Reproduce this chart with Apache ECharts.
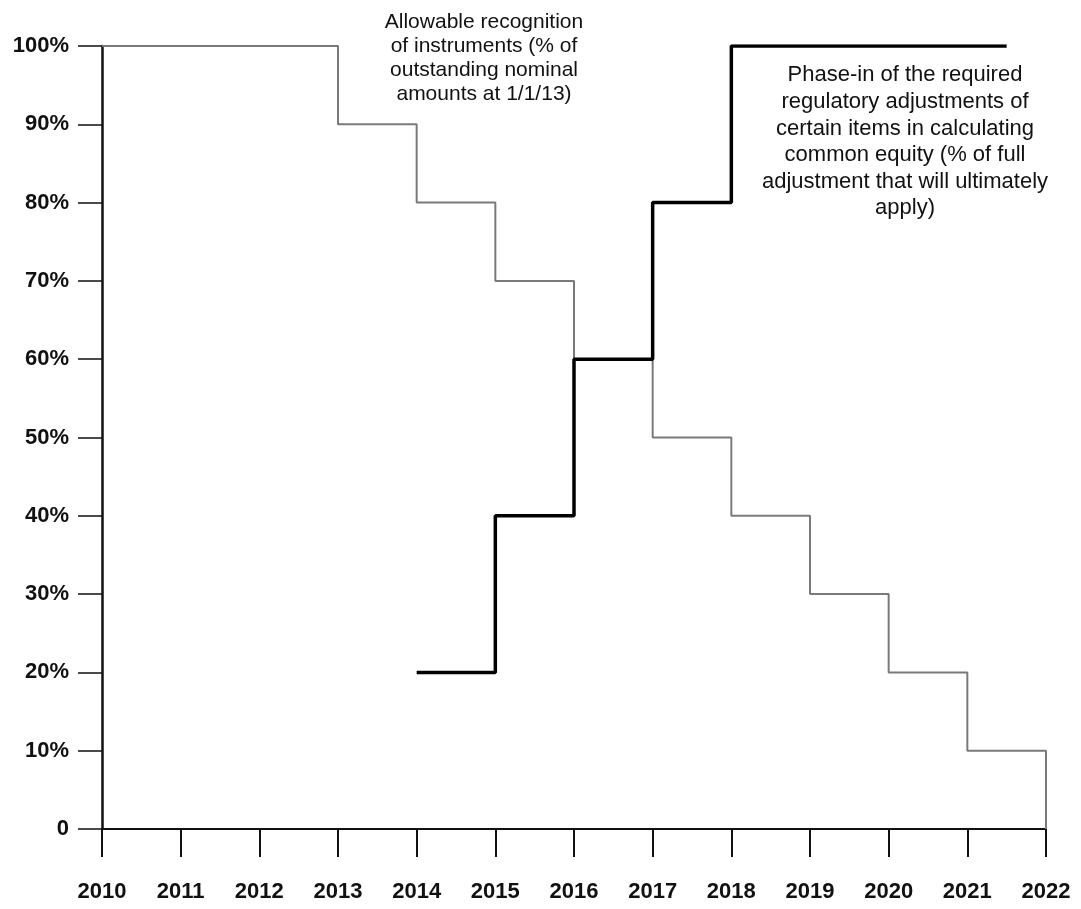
<!DOCTYPE html>
<html>
<head>
<meta charset="utf-8">
<script src="https://cdn.jsdelivr.net/npm/echarts@6/dist/echarts.min.js"></script>
<style>
  html, body { margin: 0; padding: 0; background: #fff; }
  #main { width: 1081px; height: 909px; }
</style>
</head>
<body>
<div id="main"></div>
<script>
// tick labels
var yearTicks = ['2010', '2011', '2012', '2013', '2014', '2015', '2016', '2017', '2018', '2019', '2020', '2021', '2022'];
var pctTicks = ['0', '10%', '20%', '30%', '40%', '50%', '60%', '70%', '80%', '90%', '100%'];

// allowable recognition of instruments (grey step line)
var allowYears = [2010, 2011, 2012, 2013, 2014, 2015, 2016, 2017, 2018, 2019, 2020, 2021, 2022];
var allowValues = [100, 100, 100, 90, 80, 70, 60, 50, 40, 30, 20, 10, 0];

// phase-in of regulatory adjustments (black step line)
var phaseYears = [2014, 2015, 2016, 2017, 2018, 2021.5];
var phaseValues = [20, 40, 60, 80, 100, 100];

var allowLabel = 'Allowable recognition\nof instruments (% of\noutstanding nominal\namounts at 1/1/13)';
var phaseLabel = 'Phase-in of the required\nregulatory adjustments of\ncertain items in calculating\ncommon equity (% of full\nadjustment that will ultimately\napply)';

function pairs(xs, ys) {
  return xs.map(function (x, i) { return [x, ys[i]]; });
}

var font = "'Liberation Sans', Arial, sans-serif";
var chart = echarts.init(document.getElementById('main'), null, { renderer: 'canvas' });

var option = {
  backgroundColor: '#fff',
  animation: false,
  grid: {
    left: 102,
    right: 35,
    top: 46,
    bottom: 80
  },
  xAxis: {
    type: 'value',
    min: 2010,
    max: 2022,
    interval: 1,
    axisLine: { show: true, lineStyle: { color: '#111', width: 2 } },
    axisTick: { show: true, length: 28, lineStyle: { color: '#111', width: 2 } },
    splitLine: { show: false },
    axisLabel: {
      margin: 52,
      color: '#111',
      fontSize: 22,
      fontWeight: 'bold',
      fontFamily: font,
      formatter: function (v) { return yearTicks[Math.round(v - 2010)]; }
    }
  },
  yAxis: {
    type: 'value',
    min: 0,
    max: 100,
    interval: 10,
    axisLine: { show: true, lineStyle: { color: '#111', width: 2.5 } },
    axisTick: { show: true, length: 24, lineStyle: { color: '#111', width: 1.5 } },
    splitLine: { show: false },
    axisLabel: {
      margin: 33,
      color: '#111',
      fontSize: 22,
      fontWeight: 'bold',
      fontFamily: font,
      formatter: function (v) { return pctTicks[Math.round(v / 10)]; }
    }
  },
  series: [
    {
      name: 'Allowable recognition',
      type: 'line',
      step: 'end',
      symbol: 'none',
      data: pairs(allowYears, allowValues),
      lineStyle: { color: '#7a7a7a', width: 2 }
    },
    {
      name: 'Phase-in',
      type: 'line',
      step: 'end',
      symbol: 'none',
      data: pairs(phaseYears, phaseValues),
      lineStyle: { color: '#000', width: 3.5 }
    }
  ],
  graphic: [
    {
      type: 'text',
      x: 484,
      y: 10,
      style: {
        text: allowLabel,
        align: 'center',
        textAlign: 'center',
        verticalAlign: 'top',
        fill: '#111',
        font: '21px ' + font,
        lineHeight: 24
      }
    },
    {
      type: 'text',
      x: 905,
      y: 62,
      style: {
        text: phaseLabel,
        align: 'center',
        textAlign: 'center',
        verticalAlign: 'top',
        fill: '#111',
        font: '22px ' + font,
        lineHeight: 26.6
      }
    }
  ]
};

chart.setOption(option);
</script>
</body>
</html>
